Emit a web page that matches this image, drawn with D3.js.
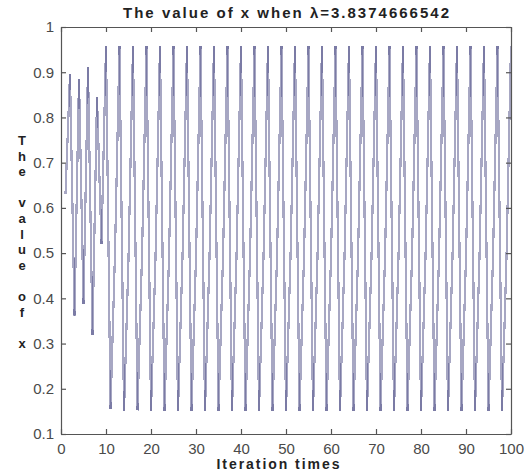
<!DOCTYPE html>
<html>
<head>
<meta charset="utf-8">
<script src="https://cdn.jsdelivr.net/npm/d3@7"></script>
<style>
  html, body { margin: 0; padding: 0; background: #fff; }
  svg { display: block; }
  text { font-family: "Liberation Sans", Arial, sans-serif; }
</style>
</head>
<body>
<svg id="chart" width="525" height="474"></svg>
<script>
// ---- data ----
const titleText = "The value of x when \u03bb=3.8374666542";
const xLabelText = "Iteration times";
const yLabelLetters = ["T","h","e","","v","a","l","u","e","","o","f","","x"];
const xTicks = [0,10,20,30,40,50,60,70,80,90,100];
const yTicks = [0.1,0.2,0.3,0.4,0.5,0.6,0.7,0.8,0.9,1];
const yTickLabels = ["0.1","0.2","0.3","0.4","0.5","0.6","0.7","0.8","0.9","1"];
// x_n for iterations n = 1..100
const xValues = [
  0.630, 0.895, 0.362, 0.886, 0.388, 0.911, 0.318, 0.845, 0.520, 0.958,
  0.155, 0.502, 0.959, 0.150, 0.488, 0.959, 0.152, 0.493, 0.959, 0.150,
  0.490, 0.959, 0.151, 0.492, 0.959, 0.151, 0.491, 0.959, 0.151, 0.491,
  0.959, 0.151, 0.491, 0.959, 0.151, 0.491, 0.959, 0.151, 0.491, 0.959,
  0.151, 0.491, 0.959, 0.151, 0.491, 0.959, 0.151, 0.491, 0.959, 0.151,
  0.491, 0.959, 0.151, 0.491, 0.959, 0.151, 0.491, 0.959, 0.151, 0.491,
  0.959, 0.151, 0.491, 0.959, 0.151, 0.491, 0.959, 0.151, 0.491, 0.959,
  0.151, 0.491, 0.959, 0.151, 0.491, 0.959, 0.151, 0.491, 0.959, 0.151,
  0.491, 0.959, 0.151, 0.491, 0.959, 0.151, 0.491, 0.959, 0.151, 0.491,
  0.959, 0.151, 0.491, 0.959, 0.151, 0.491, 0.959, 0.151, 0.491, 0.959
];
const points = xValues.map((v, i) => ({ n: i + 1, v: v }));

// ---- layout ----
const svg = d3.select("#chart");
const plotLeft = 61, plotRight = 511, plotTop = 27, plotBottom = 434;
const x = d3.scaleLinear().domain([0, 100]).range([plotLeft, plotRight]);
const y = d3.scaleLinear().domain([0.1, 1]).range([plotBottom, plotTop]);
const axisColor = "#555";

// data segments (each drawn separately, aliased, so overlaps darken)
const segs = d3.pairs(points);
svg.append("g")
  .attr("shape-rendering", "crispEdges")
  .selectAll("line")
  .data(segs)
  .join("line")
  .attr("x1", d => x(d[0].n))
  .attr("y1", d => y(d[0].v))
  .attr("x2", d => x(d[1].n))
  .attr("y2", d => y(d[1].v))
  .attr("stroke", "rgb(80,80,135)")
  .attr("stroke-opacity", 0.5)
  .attr("stroke-width", 2.2);

// axes (MATLAB style: ticks inside, box)
const gB = svg.append("g").attr("transform", `translate(0,${plotBottom})`)
  .call(d3.axisBottom(x).tickValues(xTicks).tickSizeInner(-5).tickSizeOuter(0).tickPadding(9));
const gT = svg.append("g").attr("transform", `translate(0,${plotTop})`)
  .call(d3.axisTop(x).tickValues(xTicks).tickSizeInner(-5).tickSizeOuter(0).tickFormat(""));
const gL = svg.append("g").attr("transform", `translate(${plotLeft},0)`)
  .call(d3.axisLeft(y).tickValues(yTicks).tickSizeInner(-5).tickSizeOuter(0).tickPadding(7)
    .tickFormat((d, i) => yTickLabels[i]));
const gR = svg.append("g").attr("transform", `translate(${plotRight},0)`)
  .call(d3.axisRight(y).tickValues(yTicks).tickSizeInner(-5).tickSizeOuter(0).tickFormat(""));

[gB, gT, gL, gR].forEach(g => {
  g.selectAll("path.domain").attr("stroke", axisColor).attr("stroke-width", 1.2);
  g.selectAll(".tick line").attr("stroke", axisColor).attr("stroke-width", 1.2);
  g.selectAll(".tick text").attr("fill", "#4a4a4a")
    .style("font-family", "'Liberation Sans', Arial, sans-serif")
    .attr("font-size", 15);
});

// title
svg.append("text")
  .attr("x", 286).attr("y", 18)
  .attr("text-anchor", "middle")
  .attr("font-size", 15).attr("font-weight", "bold")
  .attr("fill", "#222")
  .attr("textLength", 326).attr("lengthAdjust", "spacing")
  .text(titleText);

// x label
svg.append("text")
  .attr("x", 278).attr("y", 469)
  .attr("text-anchor", "middle")
  .attr("font-size", 14).attr("font-weight", "bold")
  .attr("fill", "#222")
  .attr("textLength", 123).attr("lengthAdjust", "spacing")
  .text(xLabelText);

// y label: stacked letters
svg.append("g")
  .selectAll("text")
  .data(yLabelLetters)
  .join("text")
  .attr("x", 22)
  .attr("y", (d, i) => 145 + i * 15.6)
  .attr("text-anchor", "middle")
  .attr("font-size", 13).attr("font-weight", "bold")
  .attr("fill", "#222")
  .text(d => d);
</script>
</body>
</html>
